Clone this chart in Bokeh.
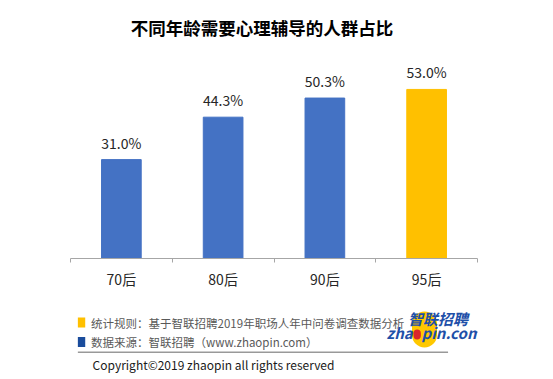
from bokeh.plotting import figure
from bokeh.layouts import column
from bokeh.models import (Range1d, FixedTicker, LabelSet, Label, BoxAnnotation,
                          ColumnDataSource)
from bokeh.core.properties import value
from bokeh.embed import file_html
from bokeh.resources import INLINE

categories = ["70后", "80后", "90后", "95后"]
values = [31.0, 44.3, 50.3, 53.0]
bar_colors = ["#4472C4", "#4472C4", "#4472C4", "#FFC000"]
title_text = "不同年龄需要心理辅导的人群占比"
legend_texts = ["统计规则：基于智联招聘2019年职场人年中问卷调查数据分析",
                "数据来源：智联招聘（www.zhaopin.com）"]
legend_colors = ["#FFC000", "#1A4C9C"]
copyright_text = "Copyright©2019 zhaopin all rights reserved"

FONT = "Noto Sans CJK SC"

xs = [i + 0.5 for i in range(len(categories))]
src = ColumnDataSource(dict(x=xs, top=values, color=bar_colors,
                            label=[f"{v:.1f}%" for v in values]))

# ---------------- main chart ----------------
p = figure(width=553, height=300, output_backend="svg", toolbar_location=None,
           x_range=Range1d(0, 4), y_range=Range1d(0, 80.88),
           y_axis_location=None, min_border_left=70, min_border_right=76,
           min_border_top=0, min_border_bottom=42)
p.outline_line_color = None
p.grid.visible = False
p.background_fill_color = "white"

p.vbar(x="x", top="top", width=0.39, color="color", source=src)

ax = p.xaxis[0]
ax.ticker = FixedTicker(ticks=xs, minor_ticks=[0, 1, 2, 3, 4])
ax.major_label_overrides = {x: c for x, c in zip(xs, categories)}
ax.major_tick_line_color = None
ax.major_tick_out = 0
ax.major_tick_in = 0
ax.minor_tick_line_color = "#A6A6A6"
ax.minor_tick_out = 4
ax.minor_tick_in = 0
ax.axis_line_color = "#A6A6A6"
ax.major_label_text_font = FONT
ax.major_label_text_font_size = "14px"
ax.major_label_text_color = "#262626"
ax.major_label_standoff = 6

p.add_layout(LabelSet(x="x", y="top", text="label", source=src, text_align="center",
                      text_baseline="bottom", y_offset=7, text_font=value(FONT),
                      text_font_size=value("14px"), text_color="#262626"))

p.add_layout(Label(x=261.5 - 70, y=258 - 27, x_units="screen", y_units="screen",
                   text=title_text, text_font=FONT, text_font_size="17.5px",
                   text_color="#000000", text_font_style="bold",
                   text_align="center", text_baseline="middle"))

# ---------------- footer ----------------
f = figure(width=553, height=79, output_backend="svg", toolbar_location=None,
           x_range=Range1d(0, 553), y_range=Range1d(79, 0),
           x_axis_location=None, y_axis_location=None, min_border=0)
f.outline_line_color = None
f.grid.visible = False

def lab(x, y, text, size, color, style="normal", align="left"):
    f.add_layout(Label(x=x, y=y - 300, text=text, text_font=FONT,
                       text_font_size=size, text_color=color,
                       text_font_style=style, text_align=align,
                       text_baseline="middle"))

def box(x0, y0, x1, y1, fill, radius=0, level="annotation"):
    f.add_layout(BoxAnnotation(left=x0, right=x1, top=y0 - 300,
                               bottom=y1 - 300, fill_color=fill, fill_alpha=1,
                               line_color=None, border_radius=radius, level=level))

for i, (t, c) in enumerate(zip(legend_texts, legend_colors)):
    yc = 322 + i * 19.5
    box(10, yc - 5, 20, yc + 5, c)
    lab(28, yc, t, "11.5px", "#595959")

# separator
box(10, 351, 513, 352.5, "#999999")
lab(30, 364, copyright_text, "12px", "#1A1A1A")

# logo
box(464, 311, 498, 347, "#FFC800", radius=17, level="underlay")
lab(540, 318, "智联招聘", "15px", "#1E4FA8", style="bold italic", align="right")
lab(465, 332, "zha", "15px", "#1E4FA8", style="bold italic", align="right")
lab(477, 332, "pin.com", "15px", "#1E4FA8", style="bold italic", align="left")
box(466, 329, 476, 339, "#D9262B", radius=5, level="overlay")

layout = column(p, f, spacing=0)
open("out.html", "w").write(file_html(layout, INLINE))
